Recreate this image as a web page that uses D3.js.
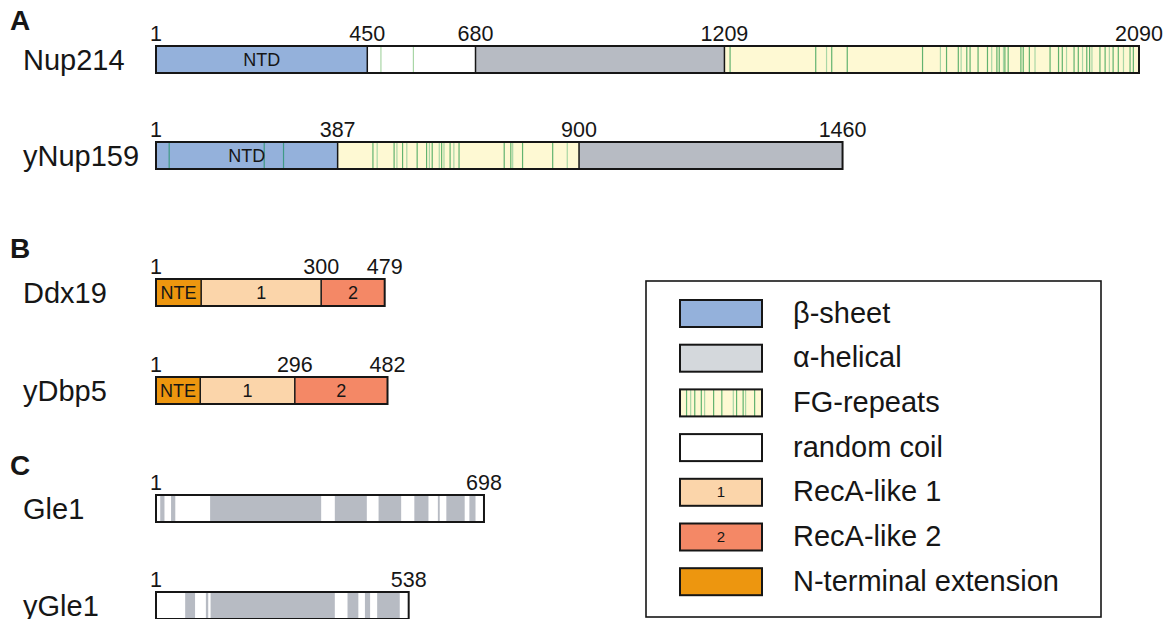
<!DOCTYPE html>
<html>
<head>
<meta charset="utf-8">
<script src="https://cdn.jsdelivr.net/npm/d3@7"></script>
<style>
  body { margin: 0; background: #fff; }
  svg { font-family: "Liberation Sans", Arial, Helvetica, sans-serif; }
</style>
</head>
<body>
<svg width="1173" height="619"></svg>
<script>
// ---- data (residue numbers) ----
var proteinNames = ['Nup214', 'yNup159', 'Ddx19', 'yDbp5', 'Gle1', 'yGle1'];
var panelLetters = ['A', 'B', 'C'];

// segments: [start, end, kind, text]
var nup214Segments = [[1, 450, 'beta', 'NTD'], [450, 680, 'coil', ''], [680, 1209, 'alpha', ''], [1209, 2090, 'fg', '']];
var ynup159Segments = [[1, 387, 'beta', 'NTD'], [387, 900, 'fg', ''], [900, 1460, 'alpha', '']];
var ddx19Segments = [[1, 97, 'nte', 'NTE'], [97, 352, 'reca1', '1'], [352, 487, 'reca2', '2']];
var ydbp5Segments = [[1, 95, 'nte', 'NTE'], [95, 296, 'reca1', '1'], [296, 493, 'reca2', '2']];
var gle1Segments = [[1, 698, 'coil', '']];
var ygle1Segments = [[1, 538, 'coil', '']];

// helical stretches inside Gle1 / yGle1
var gle1Helices = [[10, 19], [33, 42], [116, 352], [381, 449], [474, 522], [550, 580], [600, 604], [618, 657], [667, 680]];
var ygle1Helices = [[63, 84], [107, 112], [117, 381], [408, 431], [445, 456], [471, 519]];

// FG repeat marks [residue, faint?]
var nup214Fg = [[479, 1], [548, 1], [1221, 0], [1403, 0], [1426, 1], [1437, 0], [1470, 0], [1630, 0], [1668, 1], [1681, 0],
  [1706, 0], [1712, 1], [1724, 0], [1731, 0], [1748, 0], [1768, 0], [1777, 1], [1788, 0], [1793, 0], [1802, 1], [1805, 0],
  [1812, 0], [1839, 0], [1844, 0], [1857, 0], [1869, 1], [1901, 0], [1919, 0], [1927, 0], [1936, 1], [1952, 0], [1961, 0],
  [1970, 1], [1979, 0], [1985, 0], [1990, 1], [2007, 0], [2018, 0], [2027, 1], [2035, 0], [2046, 0], [2057, 1], [2071, 0], [2078, 0]];
var ynup159Fg = [[29, 2], [231, 2], [272, 2], [462, 0], [471, 1], [507, 0], [513, 1], [525, 0], [534, 1], [556, 0], [576, 0],
  [582, 1], [588, 0], [603, 1], [608, 0], [613, 1], [626, 0], [634, 1], [645, 0], [741, 0], [755, 0], [759, 1], [780, 0],
  [844, 0], [875, 1]];

// position labels: where they sit (residue units in the drawing) and what they say
var nup214Ticks = [1, 450, 680, 1209, 2090], nup214TickText = ['1', '450', '680', '1209', '2090'];
var ynup159Ticks = [1, 387, 900, 1460], ynup159TickText = ['1', '387', '900', '1460'];
var ddx19Ticks = [1, 352, 487], ddx19TickText = ['1', '300', '479'];
var ydbp5Ticks = [1, 296, 493], ydbp5TickText = ['1', '296', '482'];
var gle1Ticks = [1, 698], gle1TickText = ['1', '698'];
var ygle1Ticks = [1, 538], ygle1TickText = ['1', '538'];

var legendKinds = ['beta', 'alpha', 'fg', 'coil', 'reca1', 'reca2', 'nte'];
var legendLabels = ['\u03B2-sheet', '\u03B1-helical', 'FG-repeats', 'random coil', 'RecA-like 1', 'RecA-like 2', 'N-terminal extension'];
var legendSwatchText = ['', '', '', '', '1', '2', ''];
var legendFgMarks = [0.08, 0.13, 0.18, 0.26, 0.30, 0.41, 0.51, 0.65, 0.69, 0.77, 0.80, 0.91];

// ---- drawing ----
var fills = {beta: '#94b1db', alpha: '#b7bbc3', fg: '#fef9d3', coil: '#ffffff',
  reca1: '#fbd5aa', reca2: '#f48866', nte: '#ed960f'};
var ink = '#161616';

var rows = [
  {segs: nup214Segments, fg: nup214Fg, ticks: nup214Ticks, text: nup214TickText},
  {segs: ynup159Segments, fg: ynup159Fg, ticks: ynup159Ticks, text: ynup159TickText},
  {segs: ddx19Segments, ticks: ddx19Ticks, text: ddx19TickText},
  {segs: ydbp5Segments, ticks: ydbp5Ticks, text: ydbp5TickText},
  {segs: gle1Segments, helix: gle1Helices, ticks: gle1Ticks, text: gle1TickText},
  {segs: ygle1Segments, helix: ygle1Helices, ticks: ygle1Ticks, text: ygle1TickText}
];
var rowTop = [46, 142, 279, 377, 495, 592];
var barH = 27;

var svg = d3.select("svg");
var x = d3.scaleLinear().domain([1, 2090]).range([156, 1139]);

panelLetters.forEach(function(l, i) {
  svg.append("text").attr("x", 10).attr("y", [30, 258, 475][i])
    .attr("font-size", 28).attr("font-weight", "bold").attr("fill", ink).text(l);
});

rows.forEach(function(r, i) {
  var top = rowTop[i];
  var g = svg.append("g").attr("transform", "translate(0," + top + ")");

  svg.append("text").attr("x", 23).attr("y", top + 24)
    .attr("font-size", 29).attr("fill", ink).text(proteinNames[i]);

  g.selectAll("rect.seg").data(r.segs).enter().append("rect")
    .attr("class", "seg")
    .attr("x", function(d) { return x(d[0]); })
    .attr("width", function(d) { return x(d[1]) - x(d[0]); })
    .attr("y", 0).attr("height", barH)
    .attr("fill", function(d) { return fills[d[2]]; });

  if (r.helix) {
    g.selectAll("rect.hx").data(r.helix).enter().append("rect")
      .attr("x", function(d) { return x(d[0]); })
      .attr("width", function(d) { return x(d[1]) - x(d[0]); })
      .attr("y", 0).attr("height", barH)
      .attr("fill", fills.alpha);
  }

  if (r.fg) {
    g.selectAll("line.fg").data(r.fg).enter().append("line")
      .attr("x1", function(d) { return x(d[0]); })
      .attr("x2", function(d) { return x(d[0]); })
      .attr("y1", 0).attr("y2", barH)
      .attr("stroke", function(d) { return d[1] == 2 ? '#3f9a86' : d[1] ? '#a9d6a6' : '#62b36f'; })
      .attr("stroke-width", 1.2);
  }

  // segment borders
  g.selectAll("line.sep").data(r.segs.slice(1)).enter().append("line")
    .attr("x1", function(d) { return x(d[0]); })
    .attr("x2", function(d) { return x(d[0]); })
    .attr("y1", 0).attr("y2", barH)
    .attr("stroke", ink).attr("stroke-width", 1.5);

  var last = r.segs[r.segs.length - 1][1];
  g.append("rect")
    .attr("x", x(1)).attr("width", x(last) - x(1))
    .attr("y", 0).attr("height", barH)
    .attr("fill", "none").attr("stroke", ink).attr("stroke-width", 2);

  g.selectAll("text.seg").data(r.segs.filter(function(d) { return d[3]; })).enter().append("text")
    .attr("x", function(d) { return (x(d[0]) + x(d[1])) / 2; })
    .attr("y", barH / 2 + 6)
    .attr("text-anchor", "middle")
    .attr("font-size", 18).attr("fill", ink)
    .text(function(d) { return d[3]; });

  g.selectAll("text.tick").data(r.ticks).enter().append("text")
    .attr("x", function(d) { return x(d); })
    .attr("y", -5)
    .attr("text-anchor", "middle")
    .attr("font-size", 21.5).attr("fill", ink)
    .text(function(d, j) { return r.text[j]; });
});

// legend
var lg = svg.append("g");
lg.append("rect").attr("x", 646).attr("y", 281).attr("width", 455).attr("height", 336)
  .attr("fill", "#fff").attr("stroke", ink).attr("stroke-width", 1.6);

var legendFills = {beta: fills.beta, alpha: '#d4d8dc', fg: fills.fg, coil: '#fff',
  reca1: fills.reca1, reca2: fills.reca2, nte: fills.nte};
var sw = 82, sh = 27;
legendKinds.forEach(function(k, i) {
  var y0 = 300 + i * 44.7;
  var item = lg.append("g").attr("transform", "translate(680," + y0 + ")");
  item.append("rect").attr("width", sw).attr("height", sh).attr("fill", legendFills[k]);
  if (k == 'fg') {
    item.selectAll("line").data(legendFgMarks).enter().append("line")
      .attr("x1", function(d) { return d * sw; }).attr("x2", function(d) { return d * sw; })
      .attr("y1", 0).attr("y2", sh)
      .attr("stroke", function(d, j) { return j % 3 == 1 ? '#a9d6a6' : '#62b36f'; })
      .attr("stroke-width", 1.2);
  }
  item.append("rect").attr("width", sw).attr("height", sh)
    .attr("fill", "none").attr("stroke", ink).attr("stroke-width", 2);
  if (legendSwatchText[i]) {
    item.append("text").attr("x", sw / 2).attr("y", sh / 2 + 5).attr("text-anchor", "middle")
      .attr("font-size", 15).attr("fill", ink).text(legendSwatchText[i]);
  }
  item.append("text").attr("x", 113).attr("y", sh / 2 + 9)
    .attr("font-size", 29).attr("fill", ink).text(legendLabels[i]);
});
</script>
</body>
</html>
